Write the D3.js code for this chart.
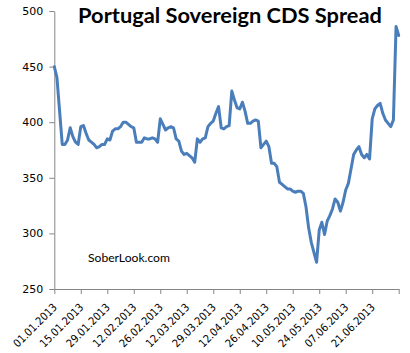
<!DOCTYPE html>
<html><head><meta charset="utf-8">
<script src="https://cdn.jsdelivr.net/npm/d3@7"></script>
<style>
html,body{margin:0;padding:0;background:#fff;}
svg{display:block;}
</style></head>
<body><svg id="c" width="410" height="353"></svg>
<script>
const title = "Portugal Sovereign CDS Spread";
const watermark = "SoberLook.com";
const tickLabels = ["01.01.2013","15.01.2013","29.01.2013","12.02.2013","26.02.2013","12.03.2013","29.03.2013","12.04.2013","26.04.2013","10.05.2013","24.05.2013","07.06.2013","21.06.2013"];
const yTicks = [250,300,350,400,450,500];
// CDS spread (bp), one value per trading day
const spread = [
450,440,410,380,380,384,395,387,382,380,
396,397,390,384,382,380,377,378,380,380,
385,384,392,394,394,396,400,400,398,396,
395,382,382,382,386,385,385,386,385,382,
403,398,393,395,396,395,385,383,374,371,
372,370,368,364,385,382,385,386,396,399,
401,408,414,395,394,396,397,428,420,413,
412,418,410,399,399,401,402,401,377,380,
383,378,363,363,360,346,344,342,340,340,
338,337,338,338,336,324,305,292,283,274,
303,310,299,311,316,322,331,328,320,328,
339,345,358,371,375,378,371,368,371,367,
403,412,415,417,408,402,399,396,402,486,
478
];

const svg = d3.select("#c");
const L = 54.3, R = 398.7, T = 11, B = 289;
const x = d3.scaleLinear().domain([0, spread.length - 1]).range([L, R]);
const y = d3.scaleLinear().domain([250, 500]).range([B, T]);
const axisColor = "#868686";

// Y axis
const ya = svg.append("g").attr("transform", `translate(${L},0)`)
  .call(d3.axisLeft(y).tickValues(yTicks).tickSize(5).tickSizeOuter(0).tickPadding(6));
ya.select(".domain").attr("stroke", axisColor);
ya.selectAll(".tick line").attr("stroke", axisColor);
ya.selectAll(".tick text").attr("font-family", "DejaVu Sans, Verdana, sans-serif").attr("font-size", 11).attr("fill", "#000");

// X axis
const xTickVals = d3.range(0, spread.length, 10);
const xa = svg.append("g").attr("transform", `translate(0,${B})`)
  .call(d3.axisBottom(x).tickValues(xTickVals).tickSize(5).tickSizeOuter(0)
    .tickFormat((d, i) => tickLabels[i] || ""));
xa.select(".domain").attr("stroke", axisColor);
xa.selectAll(".tick line").attr("stroke", axisColor);
xa.selectAll(".tick text")
  .attr("font-family", "DejaVu Sans Condensed, DejaVu Sans, sans-serif").attr("font-size", 11).attr("fill", "#000")
  .attr("text-anchor", "end").attr("dy", null).attr("y", 0)
  .attr("transform", "translate(3,19) rotate(-45)");

// Line
const line = d3.line().x((d, i) => x(i)).y(d => y(d));
svg.append("path").datum(spread).attr("d", line)
  .attr("fill", "none").attr("stroke", "#4a7ebb").attr("stroke-width", 3)
  .attr("stroke-linejoin", "round").attr("stroke-linecap", "round");

// Title
const t = svg.append("text").text(title)
  .attr("x", 230).attr("y", 23).attr("text-anchor", "middle")
  .attr("font-family", "Lato, Carlito, sans-serif").attr("font-weight", "bold")
  .attr("font-size", 21).attr("fill", "#000");
const w = t.node().getComputedTextLength();
t.attr("font-size", 21 * 304 / w);

// Watermark
const wm = svg.append("text").text(watermark)
  .attr("x", 88).attr("y", 262)
  .attr("font-family", "Lato, Carlito, sans-serif").attr("font-size", 12).attr("fill", "#000");
const ww = wm.node().getComputedTextLength();
wm.attr("font-size", 12 * 82 / ww);
</script></body></html>
